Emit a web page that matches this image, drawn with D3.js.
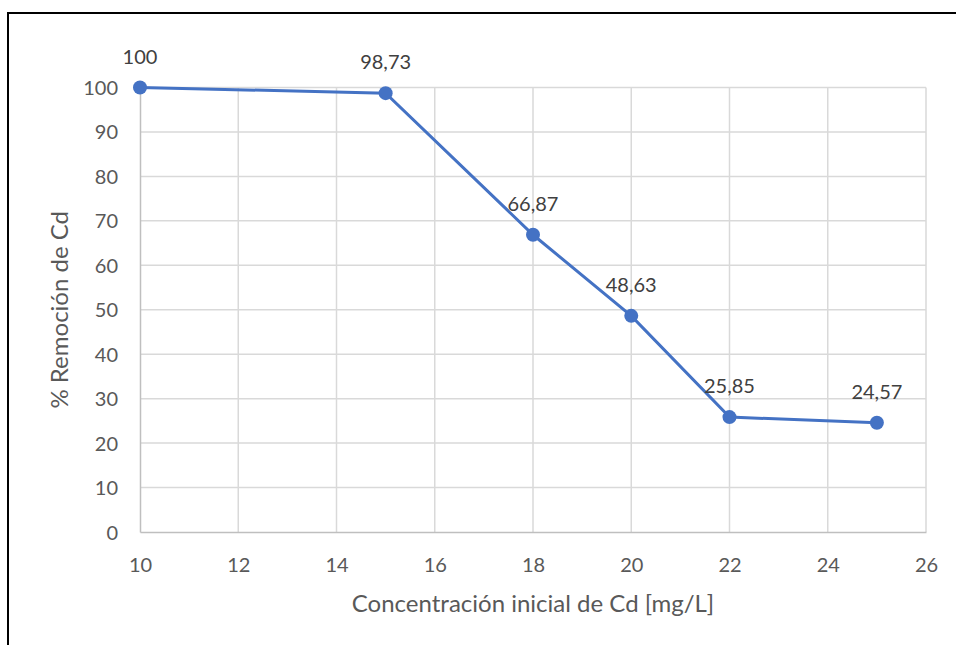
<!DOCTYPE html>
<html>
<head>
    <meta charset="utf-8" />
    <title>Remoción de Cd</title>
    <script src="https://d3js.org/d3.v7.min.js"></script>
    <style>
        body { margin: 0; background: #fff; }
        svg { display: block; font-family: Lato, "Open Sans", sans-serif; }
        .grid line { stroke: #d9d9d9; stroke-width: 1.5px; }
        .tick text { fill: #595959; font-size: 20px; }
        .title { fill: #595959; font-size: 24px; }
        .lbl { fill: #404040; font-size: 20px; text-anchor: middle; }
    </style>
</head>
<body>
<svg width="956" height="645"></svg>
<script>
    // datos
    var concentracion = [10, 15, 18, 20, 22, 25];
    var remocion = [100, 98.73, 66.87, 48.63, 25.85, 24.57];
    var etiquetas = ['100', '98,73', '66,87', '48,63', '25,85', '24,57'];
    var xTicks = [10, 12, 14, 16, 18, 20, 22, 24, 26];
    var yTicks = [0, 10, 20, 30, 40, 50, 60, 70, 80, 90, 100];

    var svg = d3.select('svg');

    // marco del grafico
    svg.append('path')
        .attr('d', 'M8,645 L8,13 L956,13')
        .attr('fill', 'none')
        .attr('stroke', '#000')
        .attr('stroke-width', 2);

    var x = d3.scaleLinear().domain([10, 26]).range([140, 926]);
    var y = d3.scaleLinear().domain([0, 100]).range([532, 87.5]);

    // rejilla
    var grid = svg.append('g').attr('class', 'grid');
    grid.selectAll('.gy').data(yTicks.slice(1)).enter().append('line')
        .attr('x1', x(10)).attr('x2', x(26))
        .attr('y1', function(d) { return y(d); })
        .attr('y2', function(d) { return y(d); });
    grid.selectAll('.gx').data(xTicks.slice(1)).enter().append('line')
        .attr('y1', y(0)).attr('y2', y(100))
        .attr('x1', function(d) { return x(d); })
        .attr('x2', function(d) { return x(d); });

    // ejes
    var xAxis = svg.append('g')
        .attr('transform', 'translate(0,' + y(0) + ')')
        .call(d3.axisBottom(x).tickValues(xTicks).tickSize(0));
    var yAxis = svg.append('g')
        .attr('transform', 'translate(' + x(10) + ',0)')
        .call(d3.axisLeft(y).tickValues(yTicks).tickSize(0).tickPadding(22));
    [xAxis, yAxis].forEach(function(a) {
        a.attr('font-family', null).attr('font-size', null);
        a.select('.domain').attr('stroke', '#bfbfbf').attr('stroke-width', 1.5);
    });
    xAxis.selectAll('text').attr('y', 40).attr('dy', null);
    yAxis.selectAll('text').attr('dy', '0.35em');

    // titulos
    svg.append('text').attr('class', 'title')
        .attr('x', x(18)).attr('y', 612)
        .attr('text-anchor', 'middle')
        .text('Concentración inicial de Cd [mg/L]');
    svg.append('text').attr('class', 'title')
        .attr('transform', 'translate(68,' + y(50) + ') rotate(-90)')
        .attr('text-anchor', 'middle')
        .text('% Remoción de Cd');

    // serie
    var line = d3.line()
        .x(function(d, i) { return x(concentracion[i]); })
        .y(function(d) { return y(d); });
    svg.append('path')
        .datum(remocion)
        .attr('d', line)
        .attr('fill', 'none')
        .attr('stroke', '#4472c4')
        .attr('stroke-width', 3);

    svg.selectAll('circle').data(remocion).enter().append('circle')
        .attr('cx', function(d, i) { return x(concentracion[i]); })
        .attr('cy', function(d) { return y(d); })
        .attr('r', 7)
        .attr('fill', '#4472c4');

    svg.selectAll('.lbl').data(remocion).enter().append('text')
        .attr('class', 'lbl')
        .attr('x', function(d, i) { return x(concentracion[i]); })
        .attr('y', function(d) { return y(d) - 24; })
        .text(function(d, i) { return etiquetas[i]; });
</script>
</body>
</html>
